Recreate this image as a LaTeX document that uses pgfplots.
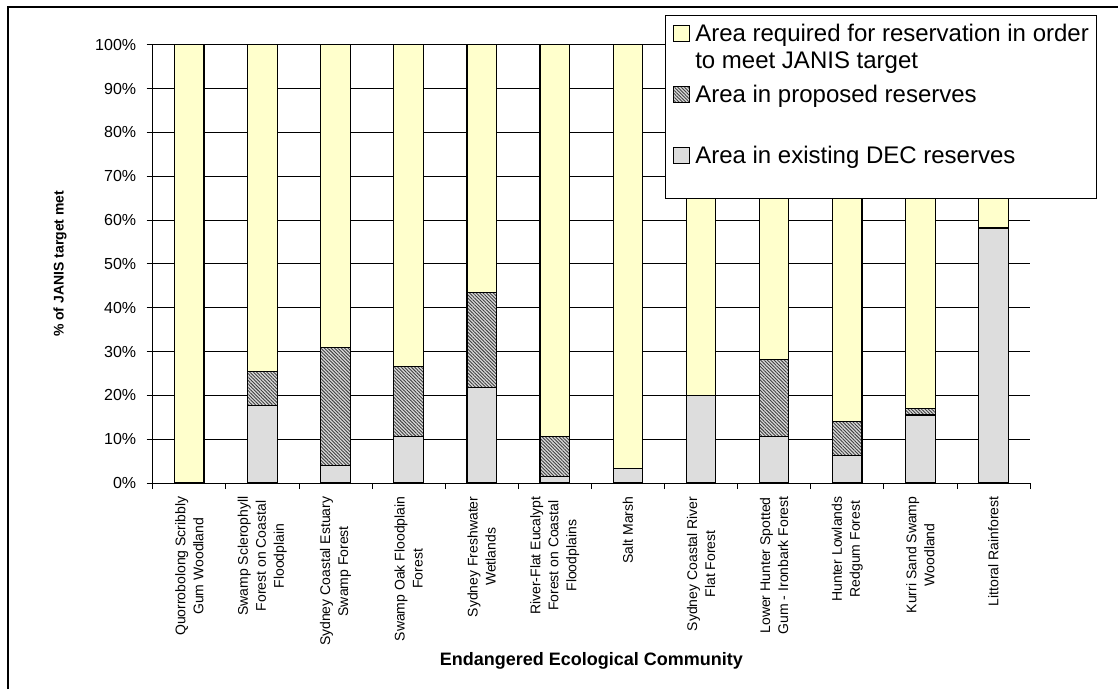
\documentclass[border=0pt]{standalone}
\usepackage{fontspec}
\setmainfont{Liberation Sans}
\usepackage{pgfplots}
\pgfplotsset{compat=1.18}
\usetikzlibrary{patterns.meta}

\definecolor{reqyellow}{RGB}{255,255,204}
\definecolor{existgray}{RGB}{226,226,226}

% existing DEC reserves (% of JANIS target)
\pgfplotstableread{
x existing
0  0.0
1  17.6
2  4.0
3  10.6
4  21.8
5  1.4
6  3.4
7  19.9
8  10.6
9  6.3
10 15.5
11 58.2
}\existing
% proposed reserves
\pgfplotstableread{
x proposed
0  0.0
1  7.9
2  26.9
3  15.9
4  21.7
5  9.2
6  0.0
7  0.0
8  17.5
9  7.7
10 1.5
11 0.0
}\proposed
% remaining area required to meet the target
\pgfplotstableread{
x required
0  100.0
1  74.5
2  69.1
3  73.5
4  56.5
5  89.4
6  96.6
7  80.1
8  71.9
9  86.0
10 83.0
11 41.8
}\required

\tikzset{
  existstyle/.style={fill=existgray, draw=black, line width=1.2pt,
    postaction={pattern={Dots[distance=2pt, radius=0.35pt]}, pattern color=gray!70}},
  propstyle/.style={fill=gray!30, draw=black, line width=1.2pt,
    postaction={pattern={Lines[angle=-45, distance=2.4pt, line width=0.9pt]}, pattern color=black!75}},
  reqstyle/.style={fill=reqyellow, draw=black, line width=1.2pt},
}

\begin{document}
\begin{tikzpicture}
\path[use as bounding box] (0,0) rectangle (1118pt,-689pt);
\draw[line width=2.5pt] (8pt,-689pt) -- (8pt,-7pt) -- (1118pt,-7pt);
\begin{axis}[
  at={(152.7pt,-483pt)}, anchor=south west,
  scale only axis, width=877.3pt, height=438.3pt,
  xmin=-0.5, xmax=11.5, ymin=0, ymax=100,
  ybar stacked, bar width=29.5pt,
  axis x line*=bottom, axis y line*=left,
  axis line style={-, black, line width=1pt},
  tick align=outside,
  xtick={0,...,11},
  major x tick style={draw=none},
  minor xtick={-0.5,0.5,...,11.5},
  minor tick length=6pt,
  minor x tick style={black, line width=0.8pt},
  ytick={0,10,...,100},
  major tick length=6pt,
  y tick style={black, line width=0.8pt},
  ymajorgrids,
  major grid style={black, line width=0.8pt},
  yticklabel={\pgfmathprintnumber{\tick}\%},
  /pgf/number format/assume math mode=true,
  y tick label style={font=\fontsize{16}{19}\selectfont, xshift=-7pt},
  xticklabels={
    {Quorrobolong Scribbly\\Gum Woodland},
    {Swamp Sclerophyll\\Forest on Coastal\\Floodplain},
    {Sydney Coastal Estuary\\Swamp Forest},
    {Swamp Oak Floodplain\\Forest},
    {Sydney Freshwater\\Wetlands},
    {River-Flat Eucalypt\\Forest on Coastal\\Floodplains},
    {Salt Marsh},
    {Sydney Coastal River\\Flat Forest},
    {Lower Hunter Spotted\\Gum - Ironbark Forest},
    {Hunter Lowlands\\Redgum Forest},
    {Kurri Sand Swamp\\Woodland},
    {Littoral Rainforest}},
  x tick label style={rotate=90, anchor=east, align=center,
    font=\fontsize{14}{18}\selectfont, xshift=-4pt},
  xlabel={Endangered Ecological Community},
  xlabel style={font=\bfseries\fontsize{18}{21}\selectfont,
    at={(axis description cs:0.5,-0.406)}, anchor=center},
  ylabel={\% of JANIS target met},
  ylabel style={font=\bfseries\fontsize{14}{16}\selectfont,
    at={(axis description cs:-0.1056,0.5)}, anchor=center},
  legend image code/.code={\draw[#1, line width=0.8pt] (0pt,0pt) rectangle (16pt,16pt);},
  legend style={at={(axis description cs:0.5835,1.0678)}, anchor=north west,
    draw=black, line width=0.8pt, fill=white,
    font=\fontsize{24}{26}\selectfont,
    inner xsep=8pt, inner ysep=7.8pt,
    row sep=0pt, column sep=5.5pt,
    nodes={inner sep=0pt},
    cells={anchor=base west}},
]
\addplot[existstyle, forget plot] table[x=x, y=existing] {\existing};
\addplot[propstyle, forget plot] table[x=x, y=proposed] {\proposed};
\addplot[reqstyle, forget plot] table[x=x, y=required] {\required};

% legend rows: the rule heights set the distance between baselines
\addlegendimage{reqstyle}
\addlegendentry{\rule{0pt}{18.2pt}Area required for reservation in order}
\addlegendimage{empty legend}
\addlegendentry{\rule{0pt}{25.5pt}to meet JANIS target}
\addlegendimage{propstyle}
\addlegendentry{\rule{0pt}{32.5pt}Area in proposed reserves}
\addlegendimage{existstyle}
\addlegendentry{\rule{0pt}{59.5pt}Area in existing DEC reserves}
\addlegendimage{empty legend}
\addlegendentry{\rule{0pt}{24pt}}
\end{axis}
\end{tikzpicture}
\end{document}
